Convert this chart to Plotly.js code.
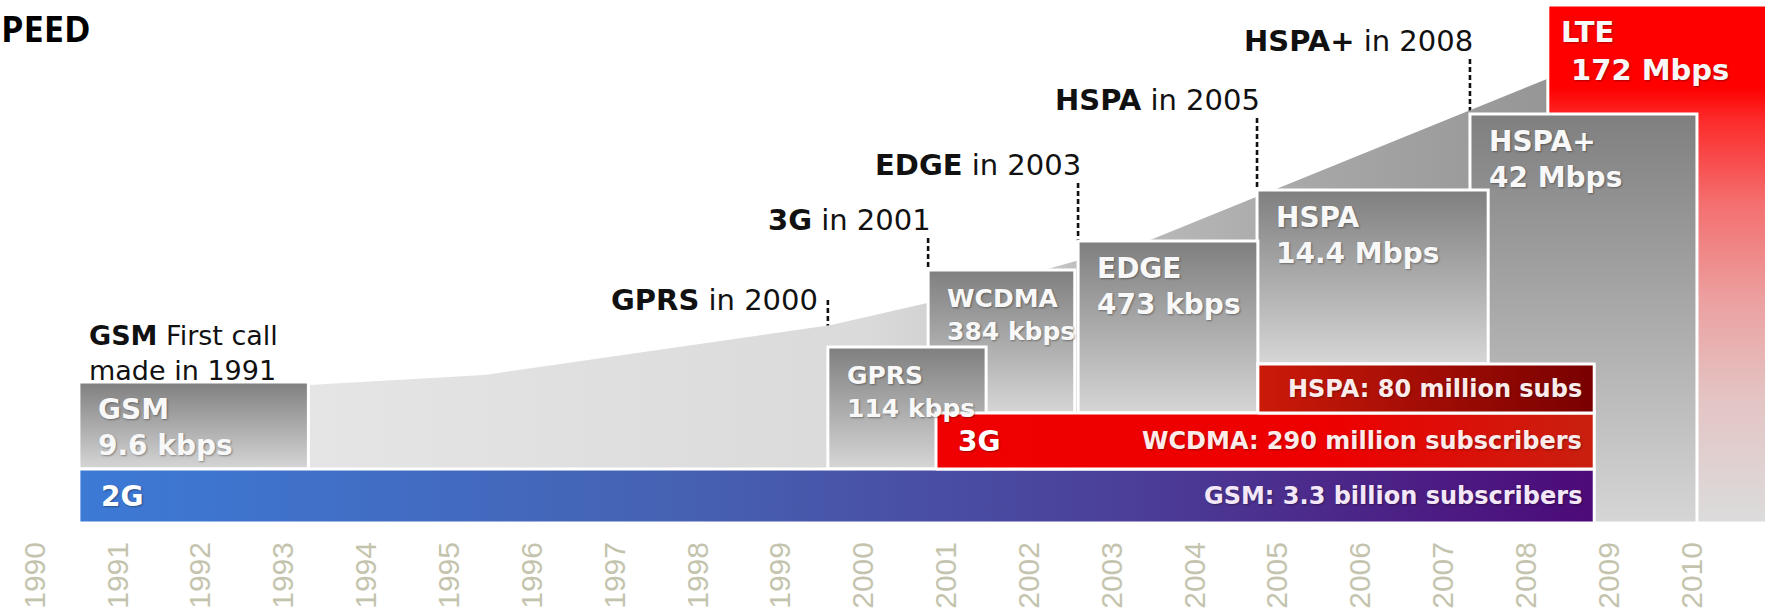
<!DOCTYPE html>
<html><head><meta charset="utf-8">
<script src="https://cdn.plot.ly/plotly-3.0.1.min.js"></script>
<style>html,body{margin:0;padding:0;background:#fff;}#chart{width:1765px;height:615px;}</style>
</head><body><div id="chart"></div>
<script>
// ---------------- data ----------------
const titleText = 'PEED';
const years = [1990,1991,1992,1993,1994,1995,1996,1997,1998,1999,2000,2001,2002,2003,2004,2005,2006,2007,2008,2009,2010];
const yearLabels = years.map(String);

// peak-speed boxes (x extent in years, vertical extent in chart units)
const boxNames  = ['GSM','GPRS','WCDMA','EDGE','HSPA','HSPA+','LTE'];
const boxSpeeds = ['9.6 kbps','114 kbps','384 kbps','473 kbps','14.4 Mbps','42 Mbps','172 Mbps'];
const boxStart  = [1990.53, 1999.57, 2000.78, 2002.59, 2004.75, 2007.32, 2008.26];
const boxEnd    = [1993.30, 2001.48, 2002.55, 2004.76, 2007.54, 2010.06, 2010.95];
const boxBase   = [54, 54, 110, 110, 159, 0, 0];
const boxTop    = [141, 176, 253, 282, 333, 409, 518];

// subscriber bands
const barGen   = ['2G','3G',''];
const barSubs  = ['GSM: 3.3 billion subscribers','WCDMA: 290 million subscribers','HSPA: 80 million subs'];
const barStart = [1990.53, 2000.875, 2004.76];
const barEnd   = [2008.82, 2008.82, 2008.82];
const barBase  = [0, 54, 110];
const barTop   = [54, 110, 159];

// speed trend area behind the boxes
const trendX = [1993.30, 1995.42, 1999.61, 2000.77, 2003.46, 2008.25];
const trendY = [138, 148, 198, 220, 283, 444];

// launch call-outs
const calloutTech  = ['GSM','GPRS','3G','EDGE','HSPA','HSPA+'];
const calloutRest  = [' First call<br>made in 1991',' in 2000',' in 2001',' in 2003',' in 2005',' in 2008'];
const calloutBox   = [0,1,2,3,4,5];
const calloutLevel = [178, 213, 293, 348, 413, 472];

// ---------------- layout helpers ----------------
const W = 1765, H = 615, MB = 92;
const XR = [1989.5776, 2010.8812];
const yrPerPx = (XR[1]-XR[0]) / W;
const YMAX = H - MB;
const FONT = 'DejaVu Sans, Verdana, sans-serif';

const traces = [];
const skip = {hoverinfo:'skip', showlegend:false};

// dashed leaders
for (let i = 1; i < calloutTech.length; i++) {
  const b = calloutBox[i];
  const top = i === 1 ? calloutLevel[i] + 10 : calloutLevel[i] - 8;
  traces.push(Object.assign({type:'scatter', mode:'lines',
    x:[boxStart[b], boxStart[b]], y:[top, boxTop[b]],
    line:{color:'#111', width:2.6, dash:'5px,3px'}}, skip));
}

// trend area
traces.push(Object.assign({type:'scatter', mode:'lines',
  x:[...trendX, trendX[trendX.length-1], trendX[0]],
  y:[...trendY, barTop[0], barTop[0]],
  fill:'toself', line:{width:0, color:'rgba(0,0,0,0)'},
  fillgradient:{type:'horizontal', colorscale:[[0,'#e5e5e5'],[0.45,'#dadada'],[0.68,'#b8b8b8'],[0.82,'#a6a6a6'],[1,'#969696']]}}, skip));

function rect(x0,x1,y0,y1,grad){
  return Object.assign({type:'scatter', mode:'lines',
    x:[x0,x1,x1,x0,x0], y:[y0,y0,y1,y1,y0], fill:'toself',
    line:{color:'#ffffff', width:3}, fillgradient:grad}, skip);
}
const grayGrad = {type:'vertical', colorscale:[[0,'#d6d6d6'],[1,'#7f7f7f']]};
const lteGrad  = {type:'vertical', colorscale:[[0,'#dcdcdc'],[0.24,'#e4c4c4'],[0.43,'#eca0a0'],[0.62,'#f46e6e'],[0.78,'#fc2a2a'],[0.84,'#ff0000'],[1,'#ff0000']]};
for (let i = boxNames.length-1; i >= 0; i--) {
  traces.push(rect(boxStart[i], boxEnd[i], boxBase[i], boxTop[i], i === boxNames.length-1 ? lteGrad : grayGrad));
}
const barGrads = [
  {type:'horizontal', colorscale:[[0,'#3c7ad6'],[0.4,'#4661b2'],[0.7,'#4b3e98'],[1,'#4c0a78']]},
  {type:'horizontal', colorscale:[[0,'#f00000'],[0.6,'#ee0000'],[1,'#c82010']]},
  {type:'horizontal', colorscale:[[0,'#cc1a0a'],[1,'#780000']]}
];
for (let i = 0; i < barGen.length; i++) traces.push(rect(barStart[i], barEnd[i], barBase[i], barTop[i], barGrads[i]));

// annotations
const ann = [];
const base = {showarrow:false, borderpad:0, borderwidth:0, xref:'x', yref:'y'};
const shadow = '1px 1px 2px rgba(0,0,0,0.35)';
for (let i = 0; i < boxNames.length; i++) {
  const w = boxEnd[i]-boxStart[i];
  const last = i === boxNames.length-1;
  const fs = w < 2 ? 25 : (last ? 29 : 28);
  const speed = last ? '\u00a0' + boxSpeeds[i] : boxSpeeds[i];
  ann.push(Object.assign({}, base, {x: boxStart[i] + (last ? 13 : 19)*yrPerPx, xanchor:'left',
    y: boxTop[i] - 37, yanchor:'middle', yshift: -0.304*fs, align:'left',
    text:'<b>' + boxNames[i] + '<br>' + speed + '</b>',
    font:{family:FONT, size:fs, color:'#f8f8f8', shadow:shadow}}));
}
for (let i = 0; i < barGen.length; i++) {
  const yc = (barBase[i]+barTop[i])/2;
  if (barGen[i]) ann.push(Object.assign({}, base, {x: barStart[i] + 22*yrPerPx, xanchor:'left', y: yc, yanchor:'middle',
    text:'<b>'+barGen[i]+'</b>', font:{family:FONT, size:28, color:'#ffffff', shadow:shadow}}));
  ann.push(Object.assign({}, base, {x: barEnd[i] - 12*yrPerPx, xanchor:'right', y: yc, yanchor:'middle',
    text:'<b>'+barSubs[i]+'</b>', font:{family:FONT, size:24, color: i===0 ? '#f4e8f8' : '#fbecec', shadow:shadow}}));
}
for (let i = 0; i < calloutTech.length; i++) {
  const b = calloutBox[i];
  if (i === 0) {
    ann.push(Object.assign({}, base, {x: boxStart[b] + 10*yrPerPx, xanchor:'left', align:'left',
      y: calloutLevel[i], yanchor:'middle', yshift:-0.304*27,
      text:'<b>'+calloutTech[i]+'</b>'+calloutRest[i], font:{family:FONT, size:27, color:'#111'}}));
  } else {
    const dx = i === 1 ? -10 : 3;
    ann.push(Object.assign({}, base, {x: boxStart[b] + dx*yrPerPx, xanchor:'right',
      y: calloutLevel[i], yanchor:'middle', yshift:0.346*29,
      text:'<b>'+calloutTech[i]+'</b>'+calloutRest[i], font:{family:FONT, size:29, color:'#111'}}));
  }
}
ann.push({xref:'paper', yref:'paper', x:0, y:1, xanchor:'left', yanchor:'top', xshift:1, yshift:-4,
  showarrow:false, borderpad:0, borderwidth:0, text:'<b>'+titleText+'</b>',
  font:{family:'Open Sans, DejaVu Sans, sans-serif', size:36, color:'#000'}});

const layout = {
  width:W, height:H, margin:{l:0, r:0, t:0, b:MB, pad:0},
  paper_bgcolor:'#ffffff', plot_bgcolor:'#ffffff', showlegend:false,
  xaxis:{range:XR, showgrid:false, zeroline:false, showline:false, ticks:'',
    tickmode:'array', tickvals:years, ticktext:yearLabels, tickangle:-90, ticklabelstandoff:12,
    tickfont:{family:'Liberation Sans, Arial, sans-serif', size:30, color:'#c4c4ae'},
    fixedrange:true, automargin:false},
  yaxis:{range:[0, YMAX], visible:false, fixedrange:true},
  annotations:ann
};
Plotly.newPlot('chart', traces, layout, {displayModeBar:false, staticPlot:true});
</script></body></html>
